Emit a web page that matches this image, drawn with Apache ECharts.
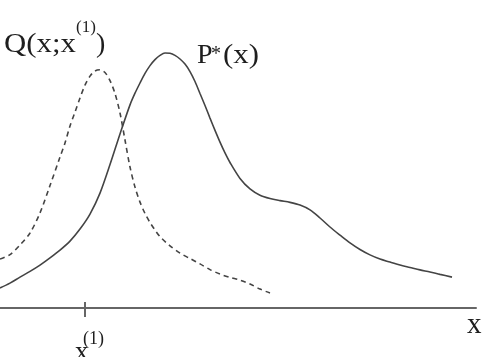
<!DOCTYPE html>
<html>
<head>
<meta charset="utf-8">
<script src="https://cdn.jsdelivr.net/npm/echarts@6/dist/echarts.min.js"></script>
<style>
html,body{margin:0;padding:0;background:#fff;}
#chart{width:500px;height:357px;}
</style>
</head>
<body>
<div id="chart"></div>
<script>
// Target density P*(x): x positions and values
var pX = [0, 10, 20, 30, 40, 50, 60, 70, 80, 90, 100, 110, 120, 130, 135, 140, 145, 150, 155, 160, 165, 170, 175, 180, 185, 190, 195, 200, 205, 210, 215, 220, 225, 230, 240, 250, 260, 270, 280, 290, 300, 310, 320, 330, 340, 350, 360, 370, 380, 390, 400, 410, 420, 430, 440, 452];
var pY = [6.7, 8.3, 10.3, 12.2, 14.3, 16.7, 19.3, 22.3, 26.3, 31.3, 38.3, 47.8, 58, 67.7, 71.6, 75, 78.2, 80.8, 82.8, 84.2, 85, 84.9, 84.2, 83, 81.3, 78.8, 75.5, 71.5, 67.5, 63.3, 59.2, 55.3, 51.7, 48.5, 43.2, 39.7, 37.6, 36.5, 35.8, 35.2, 34.3, 32.7, 30, 27, 24.3, 21.7, 19.5, 17.7, 16.3, 15.3, 14.3, 13.5, 12.7, 12, 11.2, 10.3];
// Proposal density Q(x; x(1)): x positions and values
var qX = [0, 10, 20, 30, 40, 50, 60, 65, 70, 75, 80, 85, 90, 95, 100, 105, 110, 115, 120, 125, 130, 135, 140, 145, 150, 155, 160, 170, 180, 190, 200, 210, 220, 230, 240, 250, 260, 270];
var qY = [16.3, 17.8, 21, 25, 31.7, 40.8, 50.3, 55, 60.7, 65.3, 70, 74.3, 77.3, 79, 79.4, 78.5, 75.8, 71.5, 65, 56, 47, 40.3, 35.3, 31.5, 28.5, 26, 23.8, 20.7, 18.3, 16.5, 14.7, 12.8, 11.3, 10.2, 9.3, 8, 6.3, 5];
// axis tick position x(1)
var tickX = [85];
var tickLabels = ['x'];

function pairs(xs, ys) { return xs.map(function (x, i) { return [x, ys[i]]; }); }

var chart = echarts.init(document.getElementById('chart'), null, {renderer: 'canvas'});
var serif = '"Liberation Serif", "DejaVu Serif", serif';
var txt = '#1e1e1e';
var curve = '#444444';

function label(x, y, text, size, sx) {
  return {type: 'text', x: x, y: y, scaleX: sx || 1,
    style: {text: text, font: size + 'px ' + serif, fill: txt, verticalAlign: 'middle', textVerticalAlign: 'middle'}};
}

chart.setOption({
  animation: false,
  backgroundColor: '#ffffff',
  grid: {left: 0, right: 24, top: 8, bottom: 4},
  xAxis: {
    type: 'value', min: 0, max: 476,
    axisLine: {show: true, onZero: true, lineStyle: {color: '#666666', width: 2}},
    axisTick: {show: false}, axisLabel: {show: false}, splitLine: {show: false}
  },
  yAxis: {
    type: 'value', min: -15, max: 100, show: false, splitLine: {show: false}
  },
  series: [
    {
      name: 'P', type: 'line', data: pairs(pX, pY), smooth: 0.3, showSymbol: false,
      lineStyle: {color: curve, width: 1.6},
      markLine: {
        silent: true, symbol: 'none', label: {show: false},
        lineStyle: {color: '#666666', width: 2, type: 'solid'},
        data: tickX.map(function (t) { return [{coord: [t, 2]}, {coord: [t, -3]}]; })
      }
    },
    {
      name: 'Q', type: 'line', data: pairs(qX, qY), smooth: 0.3, showSymbol: false,
      lineStyle: {color: curve, width: 1.6, type: [5, 4]}
    }
  ],
  graphic: [
    label(4, 45, 'Q(x;x', 28, 1.1),
    label(76, 28, '(1)', 17),
    label(96, 45, ')', 28),
    label(197, 56, 'P', 28),
    label(211, 55, '*', 20),
    label(223, 56, '(x)', 28, 1.1),
    label(467, 325, 'x', 29),
    label(75, 353, tickLabels[0], 27),
    label(83, 339, '(1)', 18)
  ]
});
</script>
</body>
</html>
